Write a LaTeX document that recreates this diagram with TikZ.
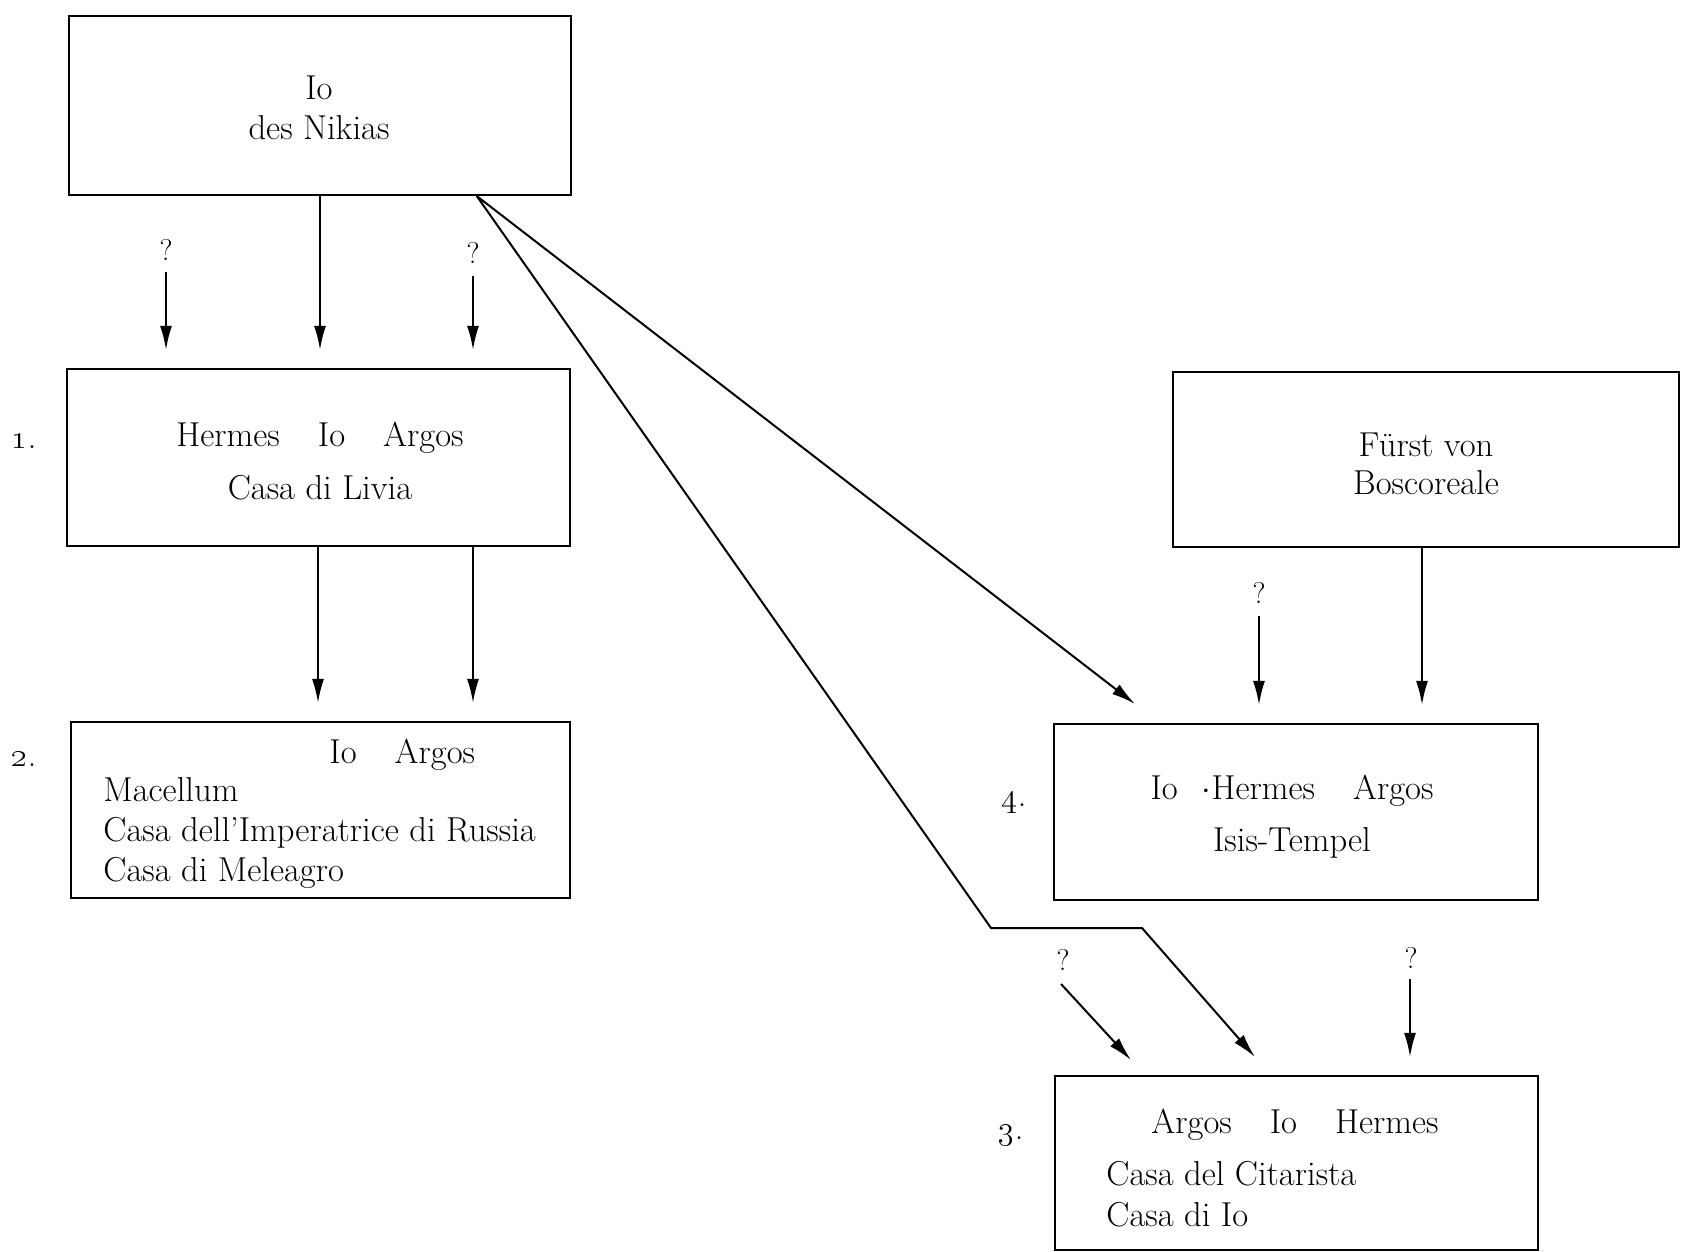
\documentclass[tikz,border=0pt]{standalone}
\usetikzlibrary{arrows.meta,fit,calc}
\begin{document}
\begin{tikzpicture}[x=0.5pt,y=-0.5pt,
  box/.style={draw, line width=1.1pt, inner sep=0pt},
  txt/.style={inner sep=0pt, text height=11pt, text depth=3.5pt, font=\fontsize{17.3}{20}\selectfont},
  qm/.style={inner sep=0pt, font=\fontsize{15}{17}\selectfont},
  num/.style={inner sep=0pt, font=\fontsize{17}{20}\selectfont},
  tip/.style={-{Latex[length=12pt,width=6pt]}},
  arr/.style={line width=1pt, tip, shorten >=9pt}]
\useasboundingbox (0,0) rectangle (1692,1252);

% boxes
\node[box, fit={(69,16)(571,195)}] (A) {};
\node[box, fit={(67,369)(570,546)}] (B) {};
\node[box, fit={(71,722)(570,898)}] (C) {};
\node[box, fit={(1173,372)(1679,547)}] (F) {};
\node[box, fit={(1054,724)(1538,900)}] (D) {};
\node[box, fit={(1055,1076)(1538,1250)}] (E) {};

% texts
\node[txt] (a1) at (319,92) {Io};
\node[txt] (a2) at (319,132) {des Nikias};

\node[txt] (b1) at (320,439) {Hermes\hspace{1.1em}Io\hspace{1.1em}Argos};
\node[txt] (b2) at (320,492) {Casa di Livia};
\node[num] (n1) at (24,441) {\oldstylenums{1}.};

\node[txt, anchor=west] (c1) at (329,756) {Io\hspace{1.1em}Argos};
\node[txt, anchor=west] (c2) at (103,794) {Macellum};
\node[txt, anchor=west] (c3) at (103,834) {Casa dell'Imperatrice di Russia};
\node[txt, anchor=west] (c4) at (103,874) {Casa di Meleagro};
\node[num] (n2) at (24,759) {\oldstylenums{2}.};

\node[txt] (f1) at (1426,449) {F\"urst von};
\node[txt] (f2) at (1426,487) {Boscoreale};

\node[txt] (d1) at (1292,792) {Io\hspace{0.7em}$\cdot$Hermes\hspace{1.1em}Argos};
\node[txt] (d2) at (1292,844) {Isis-Tempel};
\node[num] (n4) at (1014,802) {\oldstylenums{4}.};

\node[txt] (e1) at (1295,1126) {Argos\hspace{1.1em}Io\hspace{1.1em}Hermes};
\node[txt, anchor=west] (e2) at (1106,1178) {Casa del Citarista};
\node[txt, anchor=west] (e3) at (1106,1219) {Casa di Io};
\node[num] (n3) at (1011,1135) {\oldstylenums{3}.};

% question marks
\node[qm] (q1) at (166,250) {?};
\node[qm] (q2) at (473,253) {?};
\node[qm] (q3) at (1259,593) {?};
\node[qm] (q4) at (1063,960) {?};
\node[qm] (q5) at (1411,958) {?};

\coordinate (q1s) at (166,272);
\coordinate (q2s) at (473,276);
\coordinate (q3s) at (1259,616);
\coordinate (q4s) at (1061,984);
\coordinate (q5s) at (1410,979);

% A -> B
\draw[arr] (q1s) -- (q1s |- B.north);
\draw[arr] (A.south -| b2) -- (B.north -| b2);
\draw[arr] (q2s) -- (q2s |- B.north);

% B -> C
\coordinate (bc1) at (318,546);
\coordinate (bc2) at (473,546);
\draw[arr] (bc1) -- (bc1 |- C.north);
\draw[arr] (bc2) -- (bc2 |- C.north);

% F -> D
\coordinate (fd) at (1422,547);
\draw[arr] (fd) -- (fd |- D.north);
\draw[arr] (q3s) -- (q3s |- D.north);

% A -> D, A -> E
\coordinate (as) at ($(A.south west)!0.811!(A.south east)$);
\coordinate (dt) at (1135,704);
\coordinate (et) at (1255,1057);
\coordinate (k1) at (991,928);
\coordinate (k2) at (1142,928);
\draw[line width=1pt, tip] (as) -- (dt);
\draw[line width=1pt, tip] (as) -- (k1) -- (k2) -- (et);

% ? -> E
\coordinate (e4t) at (1131,1060);
\draw[line width=1pt, tip] (q4s) -- (e4t);
\draw[arr] (q5s) -- (q5s |- E.north);
\end{tikzpicture}
\end{document}
